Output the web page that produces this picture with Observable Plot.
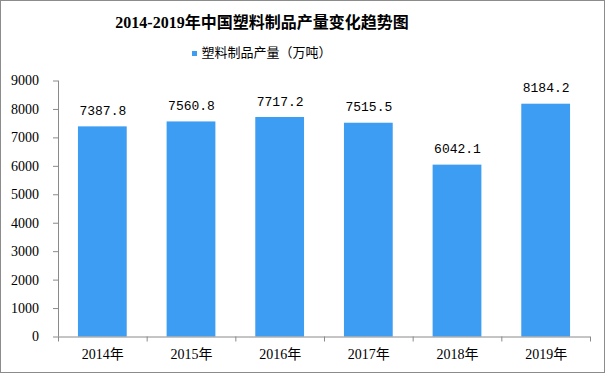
<!DOCTYPE html>
<html><head><meta charset="utf-8">
<script src="https://cdn.jsdelivr.net/npm/d3@7"></script>
<script src="https://cdn.jsdelivr.net/npm/@observablehq/plot@0.6"></script>
<style>
body{margin:0;background:#fff;}
#wrap{position:relative;width:605px;height:373px;overflow:hidden;background:#fff;}
#border{position:absolute;left:0;top:0;width:603px;height:371px;border:1px solid #8c8c8c;pointer-events:none;}
#title{position:absolute;left:0;top:12px;width:524px;text-align:center;font:bold 16px "Liberation Serif","Noto Sans CJK SC",serif;line-height:22px;color:#000;white-space:nowrap;}
#legend{position:absolute;left:0;top:44px;width:524px;text-align:center;font:13px "Liberation Serif","Noto Sans CJK SC",serif;line-height:18px;color:#000;white-space:nowrap;}
#legend .sw{display:inline-block;width:5px;height:5px;background:#3d9df2;margin-right:4px;vertical-align:middle;position:relative;top:-1px;}
#chart{position:absolute;left:0;top:66px;}
</style>
</head><body>
<div id="wrap">
<div id="title"></div>
<div id="legend"></div>
<div id="chart"></div>
<div id="border"></div>
</div>
<script>
const titleText = "2014-2019年中国塑料制品产量变化趋势图";
const seriesName = "塑料制品产量（万吨）";
const years = ["2014年","2015年","2016年","2017年","2018年","2019年"];
const values = [7387.8, 7560.8, 7717.2, 7515.5, 6042.1, 8184.2];
const yTicks = [0,1000,2000,3000,4000,5000,6000,7000,8000,9000];
const barColor = "#3d9df2";

document.getElementById("title").textContent = titleText;
const lg = document.getElementById("legend");
lg.innerHTML = '<span class="sw"></span>';
lg.appendChild(document.createTextNode(seriesName));

const data = years.map((y, i) => ({i, year: y, value: values[i]}));
const n = years.length;

const chart = Plot.plot({
  width: 605,
  height: 307,
  marginLeft: 58,
  marginRight: 15,
  marginTop: 14.5,
  marginBottom: 36.5,
  x: {type: "linear", domain: [0, n], axis: null},
  y: {domain: [0, 9000], axis: null},
  style: {fontFamily: '"Liberation Serif","Noto Sans CJK SC",serif', fontSize: "14px", color: "#000", background: "transparent"},
  marks: [
    Plot.rectY(data, {x1: d => d.i + 0.225, x2: d => d.i + 0.775, y: "value", fill: barColor}),
    Plot.ruleX([0], {y1: 0, y2: 9000, stroke: "#8a8a8a"}),
    Plot.ruleY([0], {x1: 0, x2: n, stroke: "#8a8a8a"}),
    Plot.axisY({ticks: yTicks, tickSize: 5, tickPadding: 14.5, stroke: "#8a8a8a", fill: "#000", tickFormat: d => String(d), fontSize: 14, label: null}),
    Plot.axisX({ticks: d3.range(n + 1), tickSize: 5, tickFormat: () => "", stroke: "#8a8a8a", label: null}),
    Plot.text(data, {x: d => d.i + 0.5, y: 0, text: "year", dy: 18, fontSize: 14, fill: "#000"}),
    Plot.text(data, {x: d => d.i + 0.5, y: "value", text: d => d.value.toFixed(1), dy: -16, fontSize: 13, fontFamily: '"Liberation Mono",monospace', fill: "#000"})
  ]
});
document.getElementById("chart").appendChild(chart);
</script>
</body></html>
